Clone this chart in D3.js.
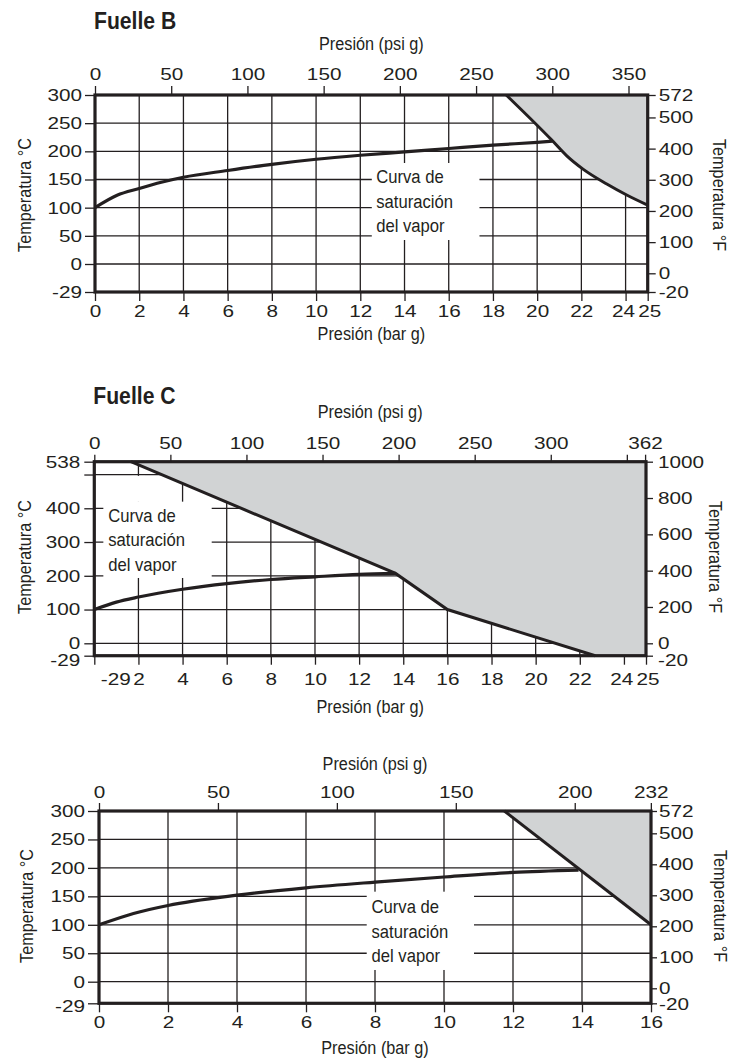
<!DOCTYPE html>
<html>
<head>
<meta charset="utf-8">
<script src="https://cdn.jsdelivr.net/npm/d3@7"></script>
<style>
  body { margin: 0; background: #fff; }
  svg text { fill: #231f20; font-family: 'Liberation Sans', Arial, sans-serif; }
  .tick text { font-size: 17px; transform-box: fill-box; transform: scaleX(1.22); }
  .axis-top .tick text, .axis-bottom .tick text { transform-origin: 50% 50%; }
  .axis-left .tick text { transform-origin: 100% 50%; }
  .axis-right .tick text { transform-origin: 0% 50%; }
  .tick line { stroke: #231f20; stroke-width: 1.3; }
</style>
</head>
<body>
<svg id="chart" width="732" height="1062"></svg>
<script>
// Constants
const PSI_PER_BAR = 14.5038
const INK = '#231f20'
const SHADE = '#d1d3d4'

// Fuelle B
const barTicksB = [0, 2, 4, 6, 8, 10, 12, 14, 16, 18, 20, 22, 24, 25]
const psiTicksB = [0, 50, 100, 150, 200, 250, 300, 350]
const tempCTicksB = [-29, 0, 50, 100, 150, 200, 250, 300]
const tempFTicksB = [-20, 0, 100, 200, 300, 400, 500, 572]
const satBarB = [0, 1, 2, 3, 4, 6, 8, 10, 12, 14, 16, 18, 20, 20.7]
const satTempB = [100, 122, 134, 145, 154, 166, 177, 186, 193, 199, 205, 211, 216, 218]
const limitBarB = [18.6, 20.66, 21.34, 22.09, 23.15, 24.05, 25]
const limitTempB = [300, 220, 192, 168, 142, 122.5, 104.5]

// Fuelle C
const barTicksC = [0, 2, 4, 6, 8, 10, 12, 14, 16, 18, 20, 22, 24, 25]
const barLabelsC = ['-29', '2', '4', '6', '8', '10', '12', '14', '16', '18', '20', '22', '24', '25']
const psiTicksC = [0, 50, 100, 150, 200, 250, 300, 350, 362]
const psiLabelsC = ['0', '50', '100', '150', '200', '250', '300', '', '362']
const tempCTicksC = [-29, 0, 100, 200, 300, 400, 500, 538]
const tempCLabelsC = ['-29', '0', '100', '200', '300', '400', '', '538']
const tempFTicksC = [-20, 0, 200, 400, 600, 800, 1000]
const satBarC = [0, 1, 2, 4, 6, 8, 10, 12, 13.65]
const satTempC = [100, 122, 137, 160, 177, 189, 197, 204, 207]
const limitBarC = [1.66, 13.65, 16, 22.7]
const limitTempC = [538, 207, 100, -29]

// third bellows (no title)
const barTicksD = [0, 2, 4, 6, 8, 10, 12, 14, 16]
const psiTicksD = [0, 50, 100, 150, 200, 232]
const tempCTicksD = [-29, 0, 50, 100, 150, 200, 250, 300]
const tempFTicksD = [-20, 0, 100, 200, 300, 400, 500, 572]
const satBarD = [0, 1, 2, 4, 6, 8, 10, 12, 13.9]
const satTempD = [100, 120, 134, 152, 165, 175, 184, 192, 196]
const limitBarD = [11.75, 16]
const limitTempD = [300, 100]

const noteLines = ['Curva de', 'saturación', 'del vapor']

const charts = [
  {
    title: 'Fuelle B', titleY: 29.3,
    frame: { left: 95, right: 647.7, top: 95, bottom: 292 },
    barMax: 25, cMax: 300, cStep: 28, fMax: 572, fStep: 18.7,
    barTicks: barTicksB, barLabels: barTicksB.map(String), spreadLast: true,
    psiTicks: psiTicksB, psiLabels: psiTicksB.map(String),
    cTicks: tempCTicksB, cLabels: tempCTicksB.map(String),
    fTicks: tempFTicksB, fLabels: tempFTicksB.map(String),
    sat: satBarB.map((b, i) => [b, satTempB[i]]),
    limit: limitBarB.map((b, i) => [b, limitTempB[i]]),
    corners: [[25, 300]], limitCurve: d3.curveMonotoneX,
    ticks: { top: [9, 6], bottom: [9, 4], left: [10, 3], right: [8, 3] },
    lowLabelDrop: { left: 0, right: 0 },
    titles: { top: 49.5, bottom: 340, left: 31, right: 713, midY: 195 },
    masks: [{ x0: 12.52, x1: 17.39, y0: 179.3, y1: 42.6 }], note: { x: 12.72, y: 143.3 }
  },
  {
    title: 'Fuelle C', titleY: 404,
    frame: { left: 94.3, right: 646, top: 461.7, bottom: 655.7 },
    barMax: 25, cMax: 538, cStep: 12.4, fMax: 1000, fStep: 12.4,
    barTicks: barTicksC, barLabels: barLabelsC, firstLabelShift: 21, spreadLast: true,
    psiTicks: psiTicksC, psiLabels: psiLabelsC,
    cTicks: tempCTicksC, cLabels: tempCLabelsC,
    fTicks: tempFTicksC, fLabels: tempFTicksC.map(String),
    sat: satBarC.map((b, i) => [b, satTempC[i]]),
    limit: limitBarC.map((b, i) => [b, limitTempC[i]]),
    corners: [[25, -29], [25, 538]], limitCurve: d3.curveLinear,
    ticks: { top: [7, 6], bottom: [9, 8], left: [10, 4], right: [7, 5] },
    lowLabelDrop: { left: 4, right: 4 },
    titles: { top: 418, bottom: 713, left: 31, right: 709, midY: 557 },
    masks: [{ x0: 0.41, x1: 5.32, y0: 419.6, y1: 193.5 }, { x0: 1.7, x1: 2.3, y0: 496, y1: 419 }],
    note: { x: 0.63, y: 360.3 }
  },
  {
    title: '', titleY: 0,
    frame: { left: 99, right: 651, top: 811, bottom: 1003.3 },
    barMax: 16, cMax: 300, cStep: 21.6, fMax: 572, fStep: 15,
    barTicks: barTicksD, barLabels: barTicksD.map(String),
    psiTicks: psiTicksD, psiLabels: psiTicksD.map(String),
    cTicks: tempCTicksD, cLabels: tempCTicksD.map(String),
    fTicks: tempFTicksD, fLabels: tempFTicksD.map(String),
    sat: satBarD.map((b, i) => [b, satTempD[i]]),
    limit: limitBarD.map((b, i) => [b, limitTempD[i]]),
    corners: [[16, 300]], limitCurve: d3.curveLinear,
    ticks: { top: [8, 5], bottom: [9, 4], left: [11, 3], right: [6, 2] },
    lowLabelDrop: { left: 2.5, right: 1 },
    titles: { top: 770, bottom: 1054, left: 33, right: 714, midY: 906 },
    masks: [{ x0: 7.76, x1: 10.87, y0: 158.2, y1: 20.6 }], note: { x: 7.9, y: 120.2 }
  }
]

const svg = d3.select('#chart')

// Condensed look: regular Liberation Sans squeezed horizontally
const narrowText = (g, x, y, rot, size, squeeze, text, anchor) =>
  g.append('text')
    .attr('transform', `translate(${x}, ${y}) rotate(${rot}) scale(${squeeze}, 1)`)
    .attr('text-anchor', anchor)
    .style('font-size', `${size}px`)
    .text(text)

const drawChart = cfg => {
  const f = cfg.frame
  const g = svg.append('g')

  // Scales
  const x = d3.scaleLinear().domain([0, cfg.barMax]).range([f.left, f.right])
  const xPsi = d3.scaleLinear().domain([0, cfg.barMax * PSI_PER_BAR]).range([f.left, f.right])
  const y = d3.scaleLinear().domain([-29, 0, cfg.cMax]).range([f.bottom, f.bottom - cfg.cStep, f.top])
  const yF = d3.scaleLinear().domain([-20, 0, cfg.fMax]).range([f.bottom, f.bottom - cfg.fStep, f.top])

  // Grid lines
  g.append('g').selectAll('line')
    .data(cfg.barTicks.filter(d => d > 0 && d < cfg.barMax))
    .join('line')
    .attr('x1', d => x(d)).attr('x2', d => x(d))
    .attr('y1', f.top).attr('y2', f.bottom)
    .attr('stroke', INK).attr('stroke-width', 1.3)
  g.append('g').selectAll('line')
    .data(cfg.cTicks.filter(d => d > -29 && d < cfg.cMax))
    .join('line')
    .attr('x1', f.left).attr('x2', f.right)
    .attr('y1', d => y(d)).attr('y2', d => y(d))
    .attr('stroke', INK).attr('stroke-width', 1.3)

  // White boxes behind the note
  g.append('g').selectAll('rect')
    .data(cfg.masks)
    .join('rect')
    .attr('x', d => x(d.x0)).attr('y', d => y(d.y0))
    .attr('width', d => x(d.x1) - x(d.x0))
    .attr('height', d => y(d.y1) - y(d.y0))
    .attr('fill', '#fff')

  // Shaded zone
  const line = d3.line().x(d => x(d[0])).y(d => y(d[1]))
  const limitPath = line.curve(cfg.limitCurve)(cfg.limit)
  g.append('path')
    .attr('d', limitPath + cfg.corners.map(p => `L${x(p[0])},${y(p[1])}`).join('') + 'Z')
    .attr('fill', SHADE)
  g.append('path')
    .attr('d', limitPath)
    .attr('fill', 'none').attr('stroke', INK).attr('stroke-width', 3)

  // Saturation curve
  g.append('path')
    .attr('d', d3.line().x(d => x(d[0])).y(d => y(d[1])).curve(d3.curveMonotoneX)(cfg.sat))
    .attr('fill', 'none').attr('stroke', INK).attr('stroke-width', 3.2)

  // Note text
  const note = g.append('text')
    .attr('transform', `translate(${x(cfg.note.x)}, ${y(cfg.note.y)}) scale(0.9, 1)`)
    .style('font-size', '18.5px')
  note.selectAll('tspan')
    .data(noteLines)
    .join('tspan')
    .attr('x', 0)
    .attr('dy', (d, i) => i === 0 ? 0 : 24.5)
    .text(d => d)

  // Frame
  g.append('rect')
    .attr('x', f.left).attr('y', f.top)
    .attr('width', f.right - f.left).attr('height', f.bottom - f.top)
    .attr('fill', 'none').attr('stroke', INK).attr('stroke-width', 3.2)

  // Axes
  const addAxis = (axis, cls, tx, ty) => {
    const a = g.append('g')
      .attr('class', cls)
      .attr('transform', `translate(${tx}, ${ty})`)
      .call(axis)
    a.select('.domain').remove()
    a.attr('font-family', null).attr('font-size', null)
    return a
  }
  addAxis(d3.axisTop(xPsi).tickValues(cfg.psiTicks).tickFormat((d, i) => cfg.psiLabels[i])
    .tickSize(cfg.ticks.top[0]).tickPadding(cfg.ticks.top[1]), 'axis-top', 0, f.top)
  const bottom = addAxis(d3.axisBottom(x).tickValues(cfg.barTicks).tickFormat((d, i) => cfg.barLabels[i])
    .tickSize(cfg.ticks.bottom[0]).tickPadding(cfg.ticks.bottom[1]), 'axis-bottom', 0, f.bottom)
  if (cfg.firstLabelShift) bottom.select('.tick text').attr('x', cfg.firstLabelShift)
  if (cfg.spreadLast) {
    // "24" and "25" sit one bar apart; nudge them apart like the original
    const texts = bottom.selectAll('.tick text').nodes()
    d3.select(texts[texts.length - 2]).attr('x', -2.6)
    d3.select(texts[texts.length - 1]).attr('x', 1.6)
  }
  const left = addAxis(d3.axisLeft(y).tickValues(cfg.cTicks).tickFormat((d, i) => cfg.cLabels[i])
    .tickSize(cfg.ticks.left[0]).tickPadding(cfg.ticks.left[1]), 'axis-left', f.left, 0)
  const right = addAxis(d3.axisRight(yF).tickValues(cfg.fTicks).tickFormat((d, i) => cfg.fLabels[i])
    .tickSize(cfg.ticks.right[0]).tickPadding(cfg.ticks.right[1]), 'axis-right', f.right, 0)
  // lowest labels sit a little under their tick in the original
  left.selectAll('.tick text').filter(d => d === -29).attr('y', cfg.lowLabelDrop.left)
  right.selectAll('.tick text').filter(d => d === -20).attr('y', cfg.lowLabelDrop.right)
  g.selectAll('.tick text').attr('fill', INK)

  // Axis titles
  const midX = (f.left + f.right) / 2
  const t = cfg.titles
  narrowText(g, midX, t.top, 0, 17.5, 0.93, 'Presión (psi g)', 'middle')
  narrowText(g, midX, t.bottom, 0, 17.5, 0.93, 'Presión (bar g)', 'middle')
  narrowText(g, t.left, t.midY, -90, 17.5, 0.93, 'Temperatura °C', 'middle')
  narrowText(g, t.right, t.midY, 90, 17.5, 0.93, 'Temperatura °F', 'middle')

  // Title
  if (cfg.title) {
    narrowText(g, f.left - 1, cfg.titleY, 0, 23.5, 0.9, cfg.title, 'start')
      .style('font-weight', 'bold')
  }
}

charts.forEach(drawChart)
</script>
</body>
</html>
